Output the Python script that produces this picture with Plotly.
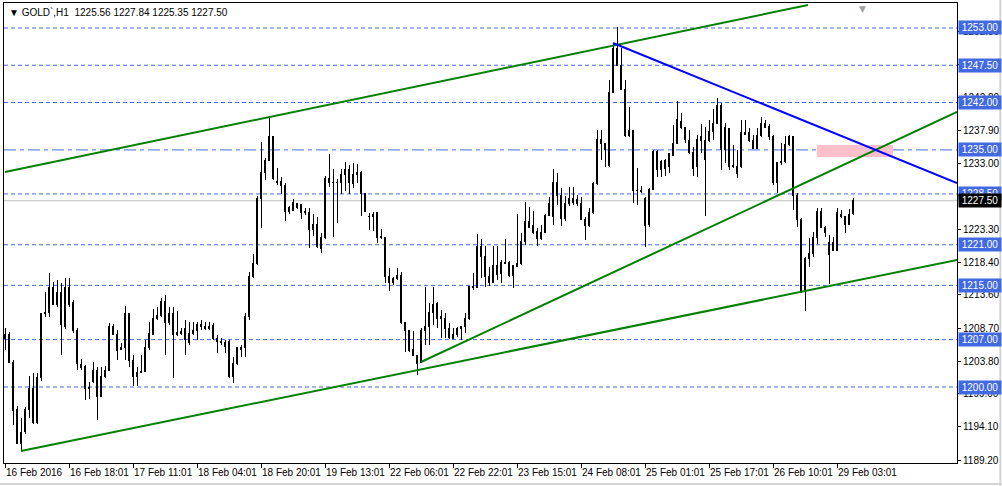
import plotly.graph_objects as go

# ---------------- data (GOLD`, H1) ----------------
opens = [1207.23,1207.82,1203.69,1196.75,1191.73,1193.36,1196.75,1199.85,1194.69,1201.33,
1210.78,1210.93,1214.76,1212.25,1213.88,1209.00,1214.76,1212.54,1208.41,1203.39,
1203.10,1200.00,1200.88,1202.51,1198.67,1201.48,1202.51,1209.00,1207.82,1205.61,
1205.76,1210.78,1203.98,1201.48,1202.21,1202.36,1205.76,1207.82,1210.04,1210.49,
1212.69,1209.45,1210.78,1207.82,1208.26,1208.71,1206.64,1207.97,1208.41,1209.30,
1208.86,1208.71,1209.15,1207.23,1206.79,1206.64,1206.79,1201.62,1203.54,1205.90,
1205.76,1210.34,1216.24,1218.16,1227.90,1231.74,1233.51,1236.91,1230.12,1230.41,
1229.82,1225.84,1226.13,1227.16,1226.87,1225.84,1225.69,1223.18,1223.92,1220.52,
1222.00,1230.85,1230.26,1230.12,1230.12,1231.30,1232.18,1229.97,1231.44,1231.74,
1228.64,1225.24,1225.10,1225.69,1222.29,1222.14,1216.24,1215.36,1215.95,1216.39,
1209.45,1208.41,1205.61,1204.72,1203.69,1208.27,1208.86,1210.93,1212.40,1210.34,
1210.04,1208.71,1207.23,1207.82,1208.71,1208.86,1210.04,1214.91,1214.62,1220.67,
1219.34,1216.24,1215.50,1218.01,1216.83,1218.16,1218.31,1216.39,1217.86,1218.16,
1221.55,1224.36,1223.77,1223.03,1221.85,1222.88,1225.39,1225.10,1230.26,1228.20,
1224.95,1227.16,1227.31,1227.61,1227.16,1224.80,1223.77,1225.69,1229.97,1236.61,
1236.02,1232.63,1243.55,1250.04,1247.53,1243.99,1237.06,1237.94,1229.08,1228.94,
1227.90,1224.06,1229.23,1234.84,1232.18,1233.51,1232.48,1234.25,1236.02,1239.27,
1238.38,1236.46,1234.69,1232.48,1236.91,1233.66,1236.32,1237.65,1238.97,1241.63,
1234.99,1238.09,1232.48,1231.59,1232.48,1237.35,1237.50,1236.46,1235.28,1237.06,
1238.97,1238.53,1236.91,1230.12,1233.07,1233.22,1235.73,1236.91,1228.34,1224.80,
1214.17,1219.04,1219.78,1222.14,1225.84,1223.62,1219.49,1221.26,1220.22,1225.54,
1225.10,1224.06,1225.56]

highs = [1208.71,1208.11,1203.98,1197.19,1195.42,1197.04,1201.62,1202.07,1202.07,1210.93,
1214.02,1216.83,1215.50,1215.80,1215.36,1216.09,1216.09,1212.84,1208.71,1204.13,
1203.24,1200.74,1203.69,1202.95,1202.95,1203.10,1209.45,1209.30,1208.41,1206.50,
1211.96,1210.93,1204.72,1202.95,1204.72,1206.94,1209.60,1211.52,1211.81,1213.14,
1213.58,1211.81,1211.81,1211.22,1208.71,1209.89,1209.60,1209.60,1209.60,1209.89,
1209.60,1209.60,1209.45,1207.67,1207.23,1206.94,1206.94,1204.43,1205.76,1206.20,
1210.93,1216.98,1219.62,1228.20,1236.17,1233.81,1239.71,1237.06,1232.33,1231.00,
1230.12,1226.72,1227.76,1227.16,1226.87,1226.43,1226.43,1225.54,1225.10,1222.74,
1231.15,1234.40,1232.18,1230.71,1232.18,1233.22,1232.77,1233.07,1232.92,1231.89,
1228.64,1225.69,1225.84,1225.84,1223.33,1222.14,1217.57,1216.24,1217.57,1216.98,
1209.45,1208.41,1208.27,1204.72,1208.71,1214.76,1212.40,1214.76,1212.54,1211.37,
1210.93,1209.45,1208.71,1208.86,1208.86,1210.93,1214.91,1216.83,1222.59,1221.85,
1220.82,1217.72,1220.82,1220.82,1218.75,1221.85,1218.60,1218.01,1225.54,1222.74,
1227.31,1226.57,1225.98,1223.47,1223.92,1225.54,1228.05,1232.18,1231.59,1229.38,
1228.20,1229.53,1229.53,1228.34,1228.05,1225.10,1226.43,1230.26,1237.94,1237.94,
1236.02,1245.32,1250.78,1253.14,1250.04,1245.32,1241.33,1237.94,1232.33,1229.67,
1228.05,1229.38,1234.99,1234.99,1233.51,1233.66,1234.55,1238.68,1242.22,1240.45,
1238.38,1237.94,1235.43,1237.20,1238.83,1238.38,1239.42,1241.04,1242.66,1241.93,
1238.97,1238.24,1235.73,1234.99,1239.42,1239.42,1238.24,1237.20,1238.24,1239.86,
1239.42,1238.83,1237.20,1233.07,1236.02,1237.06,1237.20,1237.06,1228.64,1224.95,
1219.19,1222.00,1222.88,1226.43,1226.43,1223.77,1222.44,1222.14,1226.43,1226.13,
1225.24,1226.28,1227.84]

lows = [1205.46,1203.54,1194.39,1191.58,1190.55,1193.06,1195.42,1194.54,1194.54,1200.88,
1210.34,1210.34,1212.10,1211.81,1204.72,1208.56,1211.81,1207.97,1202.51,1202.51,
1198.08,1198.23,1200.59,1195.13,1198.67,1201.33,1202.36,1207.67,1203.98,1205.46,
1203.98,1202.95,1200.15,1200.15,1202.07,1202.21,1205.46,1207.67,1209.89,1210.34,
1204.72,1209.15,1201.33,1207.52,1207.67,1204.72,1206.20,1207.67,1206.94,1208.41,
1208.41,1208.41,1206.94,1205.02,1206.20,1205.02,1201.33,1200.59,1203.24,1204.43,
1204.43,1209.89,1216.09,1218.01,1223.47,1230.56,1233.36,1230.56,1229.82,1228.49,
1224.50,1225.54,1225.98,1226.28,1224.80,1225.39,1220.52,1222.29,1220.52,1219.78,
1221.85,1229.53,1222.14,1224.21,1228.49,1228.94,1228.49,1229.38,1230.12,1225.24,
1225.90,1223.18,1223.03,1221.26,1221.85,1215.36,1214.17,1215.06,1215.80,1209.30,
1205.17,1205.17,1204.58,1201.77,1203.54,1206.20,1206.20,1209.15,1208.71,1207.23,
1207.23,1207.08,1207.08,1207.38,1206.94,1207.97,1209.89,1214.32,1214.62,1216.09,
1214.76,1214.91,1215.36,1215.80,1215.36,1218.16,1216.24,1214.62,1217.86,1218.01,
1220.96,1223.47,1222.59,1220.82,1221.70,1222.74,1225.24,1223.92,1226.87,1223.77,
1224.50,1226.72,1226.87,1226.72,1224.65,1221.70,1223.62,1225.54,1229.82,1233.51,
1232.48,1232.48,1243.40,1247.39,1243.84,1236.91,1236.91,1227.16,1226.87,1228.64,
1220.67,1223.62,1229.08,1231.00,1231.00,1231.15,1231.59,1234.10,1235.87,1238.09,
1236.02,1234.40,1231.15,1231.00,1234.55,1225.24,1236.17,1236.46,1238.83,1232.03,
1233.07,1232.03,1232.33,1230.85,1232.33,1237.20,1236.17,1235.13,1235.13,1236.91,
1238.24,1236.46,1229.82,1228.64,1232.77,1233.07,1235.58,1226.13,1223.62,1213.88,
1211.22,1217.72,1219.19,1221.11,1223.47,1222.14,1215.21,1220.08,1220.08,1224.95,
1222.74,1223.92,1225.35]

closes = [1207.82,1203.69,1196.60,1191.73,1193.21,1196.75,1199.85,1194.69,1201.33,1210.78,
1211.07,1214.76,1212.25,1213.88,1209.30,1214.76,1212.25,1208.41,1203.54,1202.95,
1199.85,1199.85,1202.51,1198.67,1201.48,1202.51,1209.00,1207.82,1205.46,1205.90,
1210.78,1203.84,1201.48,1202.21,1202.36,1205.76,1207.97,1210.04,1210.49,1212.69,
1209.45,1210.78,1207.82,1208.11,1207.97,1206.94,1207.97,1208.41,1209.30,1208.86,
1208.71,1209.00,1207.23,1206.79,1206.64,1206.05,1201.48,1203.54,1205.76,1205.61,
1210.34,1216.24,1218.16,1227.90,1231.74,1233.51,1236.91,1230.71,1230.41,1229.82,
1225.84,1226.43,1227.31,1226.57,1225.69,1225.69,1223.18,1223.92,1220.67,1222.00,
1230.85,1230.12,1230.12,1230.26,1231.30,1232.18,1230.12,1231.44,1231.74,1228.64,
1225.98,1225.10,1225.54,1222.14,1222.00,1216.24,1215.50,1215.95,1216.39,1209.45,
1208.27,1205.46,1204.72,1203.54,1208.27,1208.86,1210.93,1212.25,1210.04,1210.04,
1208.71,1207.38,1207.82,1208.71,1208.86,1210.04,1214.91,1214.62,1220.67,1219.34,
1216.24,1215.50,1218.01,1216.68,1218.31,1218.31,1216.39,1218.01,1218.16,1221.55,
1224.36,1223.62,1222.88,1221.85,1222.88,1225.39,1227.02,1230.26,1228.34,1224.95,
1227.16,1227.90,1227.90,1227.16,1224.80,1223.77,1225.69,1229.97,1236.61,1236.02,
1234.99,1243.55,1250.04,1247.53,1243.99,1237.06,1237.94,1228.94,1228.94,1228.79,
1223.77,1229.23,1234.84,1232.18,1233.36,1232.33,1234.40,1236.02,1239.42,1238.24,
1236.61,1234.55,1232.33,1236.61,1236.32,1236.32,1237.65,1238.97,1241.63,1234.99,
1238.24,1232.48,1232.77,1232.48,1237.50,1237.50,1236.32,1235.28,1237.06,1238.97,
1238.38,1236.91,1230.12,1233.07,1233.22,1235.87,1236.91,1228.34,1224.80,1214.02,
1219.04,1219.78,1222.14,1225.84,1223.62,1222.74,1221.26,1220.22,1225.69,1225.10,
1224.06,1225.54,1227.50]

bar_index = list(range(len(closes)))

# time-axis labels (every 16 hourly bars)
x_tick_bars = [0, 16, 32, 48, 64, 80, 96, 112, 128, 144, 160, 176, 192, 208]
x_tick_labels = ["16 Feb 2016", "16 Feb 18:01", "17 Feb 11:01", "18 Feb 04:01",
                 "18 Feb 20:01", "19 Feb 13:01", "22 Feb 06:01", "22 Feb 22:01",
                 "23 Feb 15:01", "24 Feb 08:01", "25 Feb 01:01", "25 Feb 17:01",
                 "26 Feb 10:01", "29 Feb 03:01"]

# price-axis ticks
y_ticks = [1189.20, 1194.10, 1199.00, 1203.80, 1208.70, 1213.60, 1218.40,
           1223.30, 1228.20, 1233.00, 1237.90, 1242.80, 1247.60, 1252.50]

# horizontal levels
dashed_levels = [1253.00, 1247.50, 1242.00, 1228.50, 1221.00, 1215.00, 1207.00, 1200.00]
dashdot_levels = [1235.00]
current_price = 1227.50

# trend lines: (bar0, price0, bar1, price1)
green_lines = [(0, 1231.74, 200.75, 1256.39),
               (4, 1190.55, 238, 1218.75),
               (104, 1203.69, 238, 1240.60)]
blue_lines = [(152, 1250.78, 238, 1230.12)]
pink_zone = (203, 1233.95, 222, 1235.73)

header = "\u25BC\u00a0GOLD`,H1\u00a0\u00a01225.56\u00a01227.84\u00a01225.35\u00a01227.50"

x_range = [-0.25, 238]
y_range = [1188.78, 1256.69]

# ---------------- figure ----------------
LEVEL_BLUE = "#4169E1"
FONT = "Liberation Sans"
FS = 10

fig = go.Figure()
fig.add_trace(go.Candlestick(
    x=bar_index, open=opens, high=highs, low=lows, close=closes,
    increasing=dict(line=dict(color="black", width=1), fillcolor="white"),
    decreasing=dict(line=dict(color="black", width=1), fillcolor="black"),
    whiskerwidth=0, hoverinfo="skip", showlegend=False,
))

shapes = []
shapes.append(dict(type="rect", xref="x", yref="y", x0=pink_zone[0], x1=pink_zone[2],
                   y0=pink_zone[1], y1=pink_zone[3], fillcolor="#FFC0CB",
                   line=dict(width=0), layer="below"))
for lv in dashed_levels:
    shapes.append(dict(type="line", xref="paper", yref="y", x0=0, x1=1, y0=lv, y1=lv,
                       line=dict(color=LEVEL_BLUE, width=1, dash="4px,3px"), layer="below"))
for lv in dashdot_levels:
    shapes.append(dict(type="line", xref="paper", yref="y", x0=0, x1=1, y0=lv, y1=lv,
                       line=dict(color=LEVEL_BLUE, width=1, dash="12px,4px,4px,4px"), layer="below"))
shapes.append(dict(type="line", xref="paper", yref="y", x0=0, x1=1, y0=current_price,
                   y1=current_price, line=dict(color="#C0C0C0", width=1), layer="below"))
for (a0, p0, a1, p1) in green_lines:
    shapes.append(dict(type="line", xref="x", yref="y", x0=a0, y0=p0, x1=a1, y1=p1,
                       line=dict(color="#008000", width=2), layer="above"))
for (a0, p0, a1, p1) in blue_lines:
    shapes.append(dict(type="line", xref="x", yref="y", x0=a0, y0=p0, x1=a1, y1=p1,
                       line=dict(color="#0000FF", width=2), layer="above"))
# window frame (light grey) at right and bottom
shapes.append(dict(type="line", xref="paper", yref="paper", x0=1.0455, x1=1.0455,
                   y0=-0.06, y1=1.01, line=dict(color="#D4D4D4", width=2)))
shapes.append(dict(type="line", xref="paper", yref="paper", x0=-0.01, x1=1.05,
                   y0=-0.0457, y1=-0.0457, line=dict(color="#D4D4D4", width=2)))

annotations = []
for b, lab in zip(x_tick_bars, x_tick_labels):
    annotations.append(dict(x=b, xref="x", y=0, yref="paper", text=lab, showarrow=False,
                            xanchor="left", yanchor="top", xshift=-1, yshift=-2,
                            font=dict(family=FONT, size=FS, color="black")))
for lv in dashed_levels + dashdot_levels:
    annotations.append(dict(x=1, xref="paper", y=lv, yref="y", text=f"{lv:.2f}",
                            showarrow=False, xanchor="left", yanchor="middle", xshift=1,
                            bgcolor=LEVEL_BLUE, borderpad=1, width=40, align="center",
                            font=dict(family=FONT, size=FS, color="white")))
annotations.append(dict(x=1, xref="paper", y=current_price, yref="y",
                        text=f"{current_price:.2f}", showarrow=False, xanchor="left",
                        yanchor="middle", xshift=1, bgcolor="black", borderpad=1, width=40,
                        align="center", font=dict(family=FONT, size=FS, color="white")))
annotations.append(dict(x=0, xref="paper", y=1, yref="paper", text=header, showarrow=False,
                        xanchor="left", yanchor="top", xshift=3, yshift=-2,
                        font=dict(family=FONT, size=FS, color="black")))
annotations.append(dict(x=214.3, xref="x", y=1, yref="paper", text="\u25BC", showarrow=False,
                        xanchor="center", yanchor="top", yshift=1,
                        font=dict(family="DejaVu Sans", size=9, color="#A0A0A0")))

fig.update_layout(
    width=1002, height=486,
    margin=dict(l=4, r=45, t=3, b=23),
    paper_bgcolor="white", plot_bgcolor="white",
    showlegend=False,
    shapes=shapes, annotations=annotations,
    xaxis=dict(range=x_range, showgrid=False, zeroline=False, showline=True, mirror=True,
               linecolor="black", linewidth=1, ticks="outside", ticklen=4, tickcolor="black",
               tickvals=x_tick_bars, showticklabels=False,
               rangeslider=dict(visible=False), fixedrange=True),
    yaxis=dict(range=y_range, side="right", showgrid=False, zeroline=False, showline=True,
               mirror=True, linecolor="black", linewidth=1, ticks="outside", ticklen=3,
               tickcolor="black", tickvals=y_ticks, ticktext=[f"{v:.2f}" for v in y_ticks],
               tickfont=dict(family=FONT, size=FS, color="black"), fixedrange=True),
)

page_js = (
    "document.body.style.margin='0';"
    "document.querySelectorAll('.trace.boxes path').forEach(function(p){"
    "p.style.shapeRendering='crispEdges';});"
)
fig.write_html("out.html", post_script=page_js, config={"displayModeBar": False})
